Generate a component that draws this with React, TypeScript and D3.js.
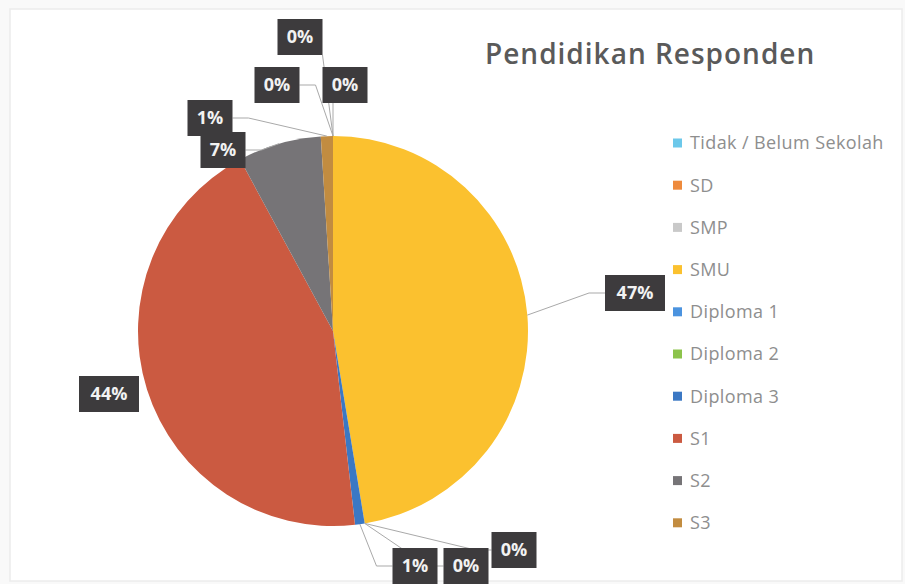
import * as d3 from "d3";

const categories = [
  "Tidak / Belum Sekolah",
  "SD",
  "SMP",
  "SMU",
  "Diploma 1",
  "Diploma 2",
  "Diploma 3",
  "S1",
  "S2",
  "S3",
];
const shares = [0, 0, 0, 47.4, 0, 0, 0.8, 43.9, 6.9, 1.0];
const colors = [
  "#6cc8ea",
  "#ee8a3c",
  "#c9c9c9",
  "#fbc12f",
  "#4b93df",
  "#8cc34b",
  "#3b78c4",
  "#cb5a41",
  "#767477",
  "#c28c40",
];
const TITLE = "Pendidikan Responden";

const WIDTH = 905;
const HEIGHT = 584;
const CX = 333;
const CY = 331;
const R = 195;

// Where each data label box sits, relative to the pie centre (Excel "best fit").
const LABEL_OFFSET: Record<string, [number, number]> = {
  "Tidak / Belum Sekolah": [12, -246],
  SD: [-33, -294],
  SMP: [-56, -246],
  SMU: [302, -38],
  "Diploma 1": [181, 219],
  "Diploma 2": [133, 235],
  "Diploma 3": [82, 235],
  S1: [-224, 63],
  S2: [-110, -181],
  S3: [-123, -213],
};

const LEGEND_X = 673;
const LEGEND_Y0 = 143;
const LEGEND_STEP = 42.2;
const FONT = "'Open Sans', 'Noto Sans', sans-serif";

type Slice = d3.PieArcDatum<number>;

function leader(s: Slice, bx: number, by: number, bw: number, bh: number) {
  const mid = (s.startAngle + s.endAngle) / 2;
  const ax = CX + R * Math.sin(mid);
  const ay = CY - R * Math.cos(mid);
  const dx = bx - ax;
  const dy = by - ay;
  const left = bx - bw / 2;
  const right = bx + bw / 2;
  const top = by - bh / 2;
  const bottom = by + bh / 2;
  const pts: [number, number][] = [[ax, ay]];
  if (Math.abs(dx) > Math.abs(dy)) {
    const sx = dx > 0 ? left : right;
    const dir = dx > 0 ? -1 : 1;
    pts.push([sx + dir * 16, by], [sx, by]);
  } else {
    const cx = Math.max(left, Math.min(right, ax));
    pts.push([cx, dy > 0 ? top : bottom]);
  }
  const last = pts[pts.length - 1];
  if (Math.hypot(last[0] - ax, last[1] - ay) < 14) return null;
  return d3.line()(pts);
}

export default function App() {
  const pie = d3
    .pie<number>()
    .sort(null)
    .value((d) => d)
    .startAngle(0)
    .endAngle(Math.PI * 2);
  const arcs = pie(shares);
  const arc = d3.arc<Slice>().innerRadius(0).outerRadius(R);
  const color = d3.scaleOrdinal<string, string>().domain(categories).range(colors);
  const legendY = d3
    .scalePoint<string>()
    .domain(categories)
    .range([LEGEND_Y0, LEGEND_Y0 + LEGEND_STEP * (categories.length - 1)]);

  const labels = arcs.map((s, i) => {
    const name = categories[i];
    const text = `${Math.round(s.data)}%`;
    const bw = text.length > 2 ? 60 : 45;
    const bh = 36;
    const [ox, oy] = LABEL_OFFSET[name];
    return { name, text, bw, bh, x: CX + ox, y: CY + oy, s };
  });

  return (
    <div style={{ position: "absolute", left: 0, top: 0 }}>
      <svg width={WIDTH} height={HEIGHT} viewBox={`0 0 ${WIDTH} ${HEIGHT}`} style={{ display: "block" }}>
        <rect width={WIDTH} height={HEIGHT} fill="#f9f9f9" />
        <rect x={10} y={9} width={892} height={572} fill="#ffffff" stroke="#ececec" strokeWidth={1.5} />

        <text x={485} y={64} fontFamily={FONT} fontSize={28} fontWeight={600} letterSpacing={1} fill="#5a5a5a">
          {TITLE}
        </text>

        <g transform={`translate(${CX},${CY})`}>
          {arcs.map((s, i) => (
            <path key={categories[i]} d={arc(s) ?? ""} fill={color(categories[i])} />
          ))}
        </g>

        <g fill="none" stroke="#a9a9a9" strokeWidth={1}>
          {labels.map((l) => {
            const d = leader(l.s, l.x, l.y, l.bw, l.bh);
            return d ? <path key={l.name} d={d} /> : null;
          })}
        </g>

        <g fontFamily={FONT} fontWeight={700} fontSize={18}>
          {labels.map((l) => (
            <g key={l.name} transform={`translate(${l.x},${l.y})`}>
              <rect x={-l.bw / 2} y={-l.bh / 2} width={l.bw} height={l.bh} fill="#3d3b3d" />
              <text textAnchor="middle" dy="0.36em" fill="#f2f2f2">
                {l.text}
              </text>
            </g>
          ))}
        </g>

        <g fontFamily={FONT} fontSize={18} letterSpacing={0.4} fill="#8e8e8e">
          {categories.map((c) => (
            <g key={c} transform={`translate(${LEGEND_X},${legendY(c)})`}>
              <rect x={0} y={-4.5} width={9} height={9} fill={color(c)} />
              <text x={17} dy="0.35em">
                {c}
              </text>
            </g>
          ))}
        </g>
      </svg>
    </div>
  );
}
